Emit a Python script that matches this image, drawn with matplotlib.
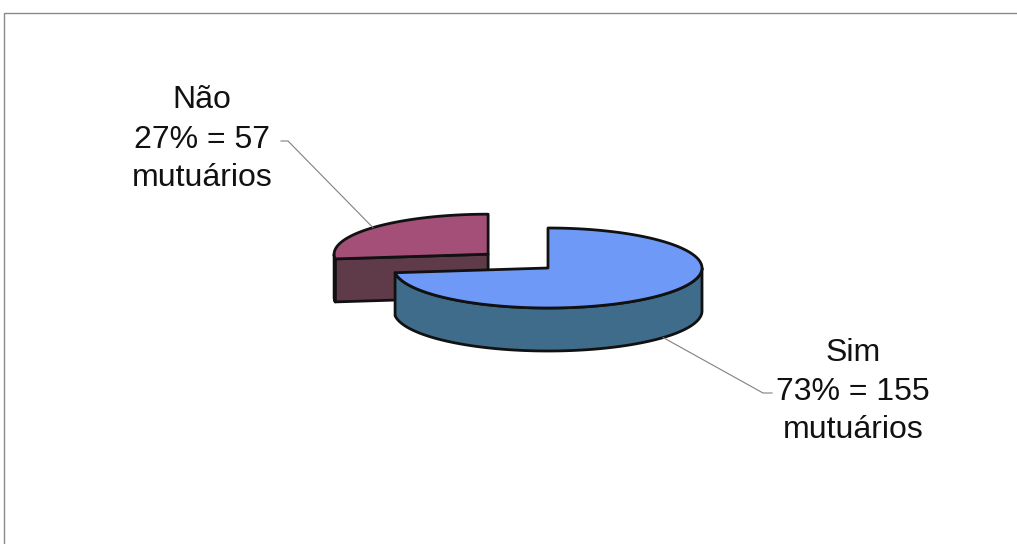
import numpy as np
import matplotlib
matplotlib.use("Agg")
import matplotlib.pyplot as plt
from matplotlib.patches import Polygon, Rectangle

# ---- data ----
categories = ["Sim", "Não"]
counts = [155, 57]
percents = [73, 27]
unit = "mutuários"
explode = [0.0, 0.52]

top_colors = ["#6F99F6", "#A34F77"]
side_colors = ["#3F6C8A", "#5F3B4A"]

W, H = 1017, 544
fig = plt.figure(figsize=(W / 100, H / 100), dpi=100)
ax = fig.add_axes([0, 0, 1, 1])
ax.set_xlim(0, W)
ax.set_ylim(H, 0)
ax.axis("off")

# frame (right and bottom edges lie outside the picture)
ax.add_patch(Rectangle((4, 13), 1030, 620, fill=False, edgecolor="#8a8a8a", lw=1.0))

CX, CY = 548, 268
RX, RY = 154, 40
D = 43


def pt(cx, cy, th):
    t = np.radians(th)
    return cx + RX * np.cos(t), cy - RY * np.sin(t)


def arc(cx, cy, a0, a1, n=120, dy=0):
    t = np.radians(np.linspace(a0, a1, n))
    return np.column_stack([cx + RX * np.cos(t), cy + dy - RY * np.sin(t)])


total = sum(counts)
fracs = [c / total for c in counts]

# slices go clockwise from 12 o'clock
slices = []
start = 90.0
for i, f in enumerate(fracs):
    end = start - 360 * f
    lo, hi = end, start
    mid = (lo + hi) / 2
    e = explode[i]
    cx = CX + e * RX * np.cos(np.radians(mid))
    cy = CY - e * RY * np.sin(np.radians(mid))
    slices.append(dict(lo=lo, hi=hi, mid=mid, cx=cx, cy=cy, i=i))
    start = end

EC = "#111111"
LW = 2.0


def draw_slice(s):
    i = s["i"]
    cx, cy, lo, hi = s["cx"], s["cy"], s["lo"], s["hi"]
    # cut faces
    for ang, vis in ((lo, np.cos(np.radians(lo)) > 1e-6), (hi, np.cos(np.radians(hi)) < -1e-6)):
        if vis:
            px, py = pt(cx, cy, ang)
            poly = [(cx, cy), (px, py), (px, py + D), (cx, cy + D)]
            ax.add_patch(Polygon(poly, closed=True, facecolor=side_colors[i],
                                 edgecolor=EC, lw=LW, joinstyle="round"))
    # outer visible side
    for k in range(-2, 3):
        a0 = max(lo, 180 + 360 * k)
        a1 = min(hi, 360 + 360 * k)
        if a1 > a0:
            topc = arc(cx, cy, a0, a1)
            botc = arc(cx, cy, a1, a0, dy=D)
            ax.add_patch(Polygon(np.vstack([topc, botc]), closed=True,
                                 facecolor=side_colors[i], edgecolor=EC, lw=LW,
                                 joinstyle="round"))
    # top face
    poly = np.vstack([[cx, cy], arc(cx, cy, lo, hi), [cx, cy]])
    ax.add_patch(Polygon(poly, closed=True, facecolor=top_colors[i],
                         edgecolor=EC, lw=LW, joinstyle="round"))


# back to front: exploded Não first, then Sim
for s in sorted(slices, key=lambda s: s["cy"]):
    draw_slice(s)

FONT = "Liberation Sans"
FS = 23

label_pos = {
    "Não": dict(x=202, ys=[100, 140, 178], line_y=141, lx=[281, 288], anchor="top"),
    "Sim": dict(x=853, ys=[353, 392, 430], line_y=393, lx=[772, 763], anchor="bottom"),
}

for s in slices:
    name = categories[s["i"]]
    lp = label_pos[name]
    lines = [name, f"{percents[s['i']]}% = {counts[s['i']]}", unit]
    for txt, y in zip(lines, lp["ys"]):
        ax.text(lp["x"], y, txt, fontsize=FS, family=FONT, ha="center",
                va="center", color="#111111")
    px, py = pt(s["cx"], s["cy"], s["mid"])
    if lp["anchor"] == "bottom":
        py += D
    ax.plot([lp["lx"][0], lp["lx"][1], px], [lp["line_y"], lp["line_y"], py],
            color="#808080", lw=0.8)

fig.savefig("out.png", dpi=100)
